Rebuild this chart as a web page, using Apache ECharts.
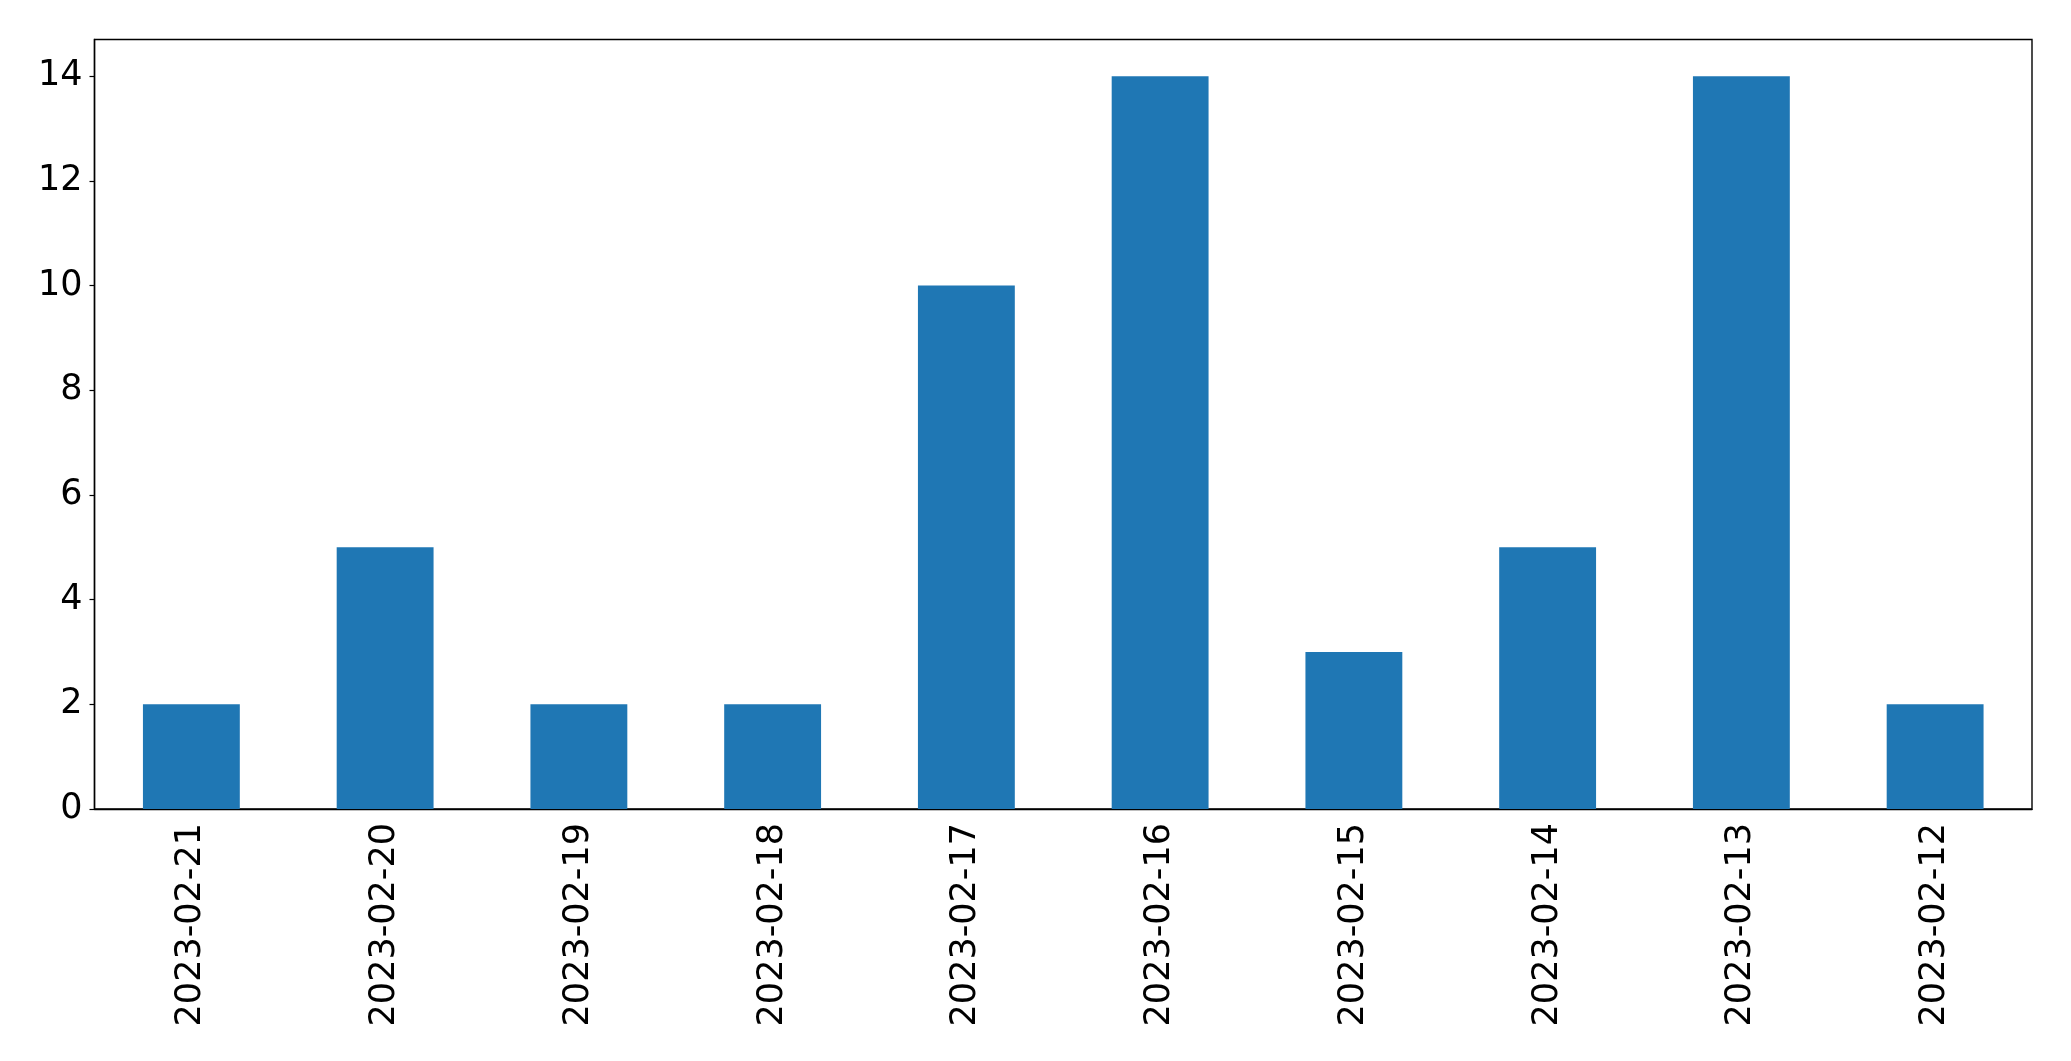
<!DOCTYPE html>
<html>
<head>
<meta charset="utf-8">
<script src="https://cdn.jsdelivr.net/npm/echarts@6/dist/echarts.min.js"></script>
<style>
html,body{margin:0;padding:0;background:#fff;}
#c{width:2071px;height:1061px;}
</style>
</head>
<body>
<div id="c"></div>
<script>
const categories = ["2023-02-21","2023-02-20","2023-02-19","2023-02-18","2023-02-17","2023-02-16","2023-02-15","2023-02-14","2023-02-13","2023-02-12"];
const values = [2,5,2,2,10,14,3,5,14,2];
const yTicks = [0,2,4,6,8,10,12,14];

const chart = echarts.init(document.getElementById('c'), null, {renderer:'canvas'});
const font = 'DejaVu Sans';
chart.setOption({
  animation:false,
  grid:{left:94.5, right:39, top:39.5, bottom:252, show:true, borderColor:'#000', borderWidth:1.4, backgroundColor:'transparent'},
  xAxis:{
    type:'category', data:categories,
    axisLine:{lineStyle:{color:'#000', width:1.4}},
    axisTick:{alignWithLabel:true, length:5, lineStyle:{color:'#000', width:1.2}},
    axisLabel:{rotate:90, interval:0, color:'#000', fontFamily:font, fontSize:35, margin:14}
  },
  yAxis:{
    type:'value', min:0, max:14.7, interval:2,
    splitLine:{show:false},
    axisLine:{show:true, lineStyle:{color:'#000', width:1.4}},
    axisTick:{show:true, length:5, customValues:yTicks, lineStyle:{color:'#000', width:1.2}},
    axisLabel:{color:'#000', fontFamily:font, fontSize:35, margin:12, customValues:yTicks}
  },
  series:[{type:'bar', data:values, barWidth:'50%', itemStyle:{color:'#1f77b4'}}]
});
</script>
</body>
</html>
